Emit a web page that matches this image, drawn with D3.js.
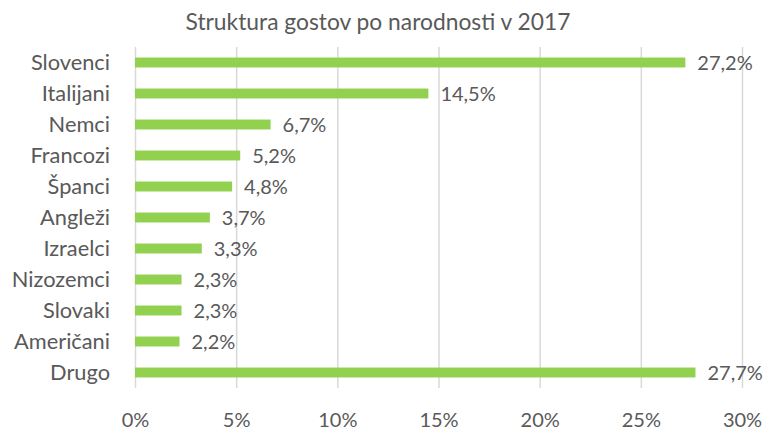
<!DOCTYPE html>
<html><head><meta charset="utf-8">
<script src="https://cdn.jsdelivr.net/npm/d3@7"></script>
<style>body{margin:0;background:#fff;} text{font-family:Lato,"Open Sans",sans-serif;fill:#595959;}</style>
</head><body>
<svg id="c" width="766" height="431"></svg>
<script>
const categories = ["Slovenci","Italijani","Nemci","Francozi","Španci","Angleži","Izraelci","Nizozemci","Slovaki","Američani","Drugo"];
const values = [27.2,14.5,6.7,5.2,4.8,3.7,3.3,2.3,2.3,2.2,27.7];
const ticks = [0,5,10,15,20,25,30];
const title = "Struktura gostov po narodnosti v 2017";

const svg = d3.select("#c");
const x = d3.scaleLinear().domain([0,30]).range([135,742]);
const y = d3.scaleBand().domain(categories).range([47,388]).paddingInner(0.68).paddingOuter(0.34);

svg.append("text").attr("x",378).attr("y",30).attr("text-anchor","middle")
  .style("font-size","22.8px").text(title);

const xAxis = d3.axisBottom(x).tickValues(ticks).tickFormat(d=>d+"%").tickSize(-(388-47)).tickPadding(0);
const gx = svg.append("g").attr("transform","translate(0,388)").call(xAxis);
gx.select(".domain").remove();
gx.selectAll(".tick line").attr("stroke","#d9d9d9").attr("stroke-width",1.5);
gx.selectAll(".tick text").attr("y",39).attr("dy",0).style("font-size","20px").style("fill","#595959").style("font-family","Lato");

svg.selectAll("rect.bar").data(values).join("rect").attr("class","bar")
  .attr("x",x(0)).attr("y",(d,i)=>y(categories[i])).attr("height",y.bandwidth())
  .attr("width",d=>x(d)-x(0)).attr("fill","#92d050");

svg.selectAll("text.val").data(values).join("text").attr("class","val")
  .attr("x",d=>x(d)+12).attr("y",(d,i)=>y(categories[i])+y.bandwidth()/2).attr("dy","0.36em")
  .style("font-size","20px").text(d=>d.toFixed(1).replace(".",",")+"%");

const yAxis = d3.axisLeft(y).tickSize(0).tickPadding(0);
const gy = svg.append("g").attr("transform","translate(110,0)").call(yAxis);
gy.select(".domain").remove();
gy.selectAll(".tick text").style("font-size","21.8px").style("fill","#595959").style("font-family","Lato").attr("dy","0.36em");
</script>
</body></html>
